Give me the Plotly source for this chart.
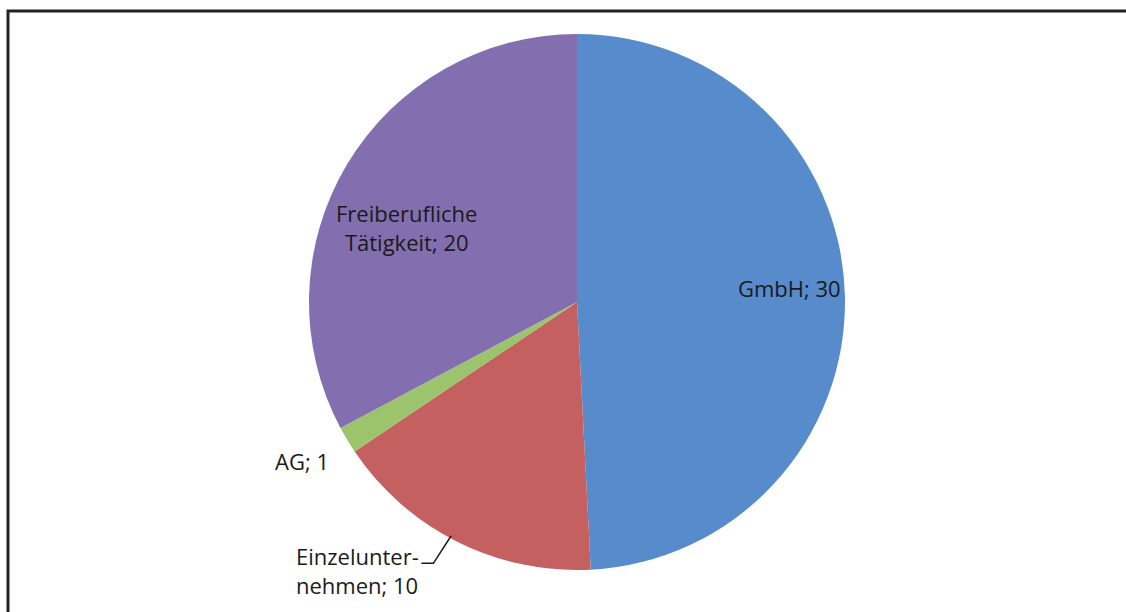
import math
import plotly.graph_objects as go

# ── Data ──────────────────────────────────────────────────────────────────────
LABELS = ["GmbH", "Einzelunternehmen", "AG", "Freiberufliche Tätigkeit"]
DISPLAY = ["GmbH; 30", "Einzelunter-<br>nehmen; 10", "AG; 1", "Freiberufliche<br>Tätigkeit; 20"]
VALUES = [30, 10, 1, 20]

# ── Style ─────────────────────────────────────────────────────────────────────
COLORS = ["#588BCB", "#C46060", "#9BC46C", "#836FB0"]
TEXT_COLOR = "#1a1a1a"
FONT = "Open Sans"
W, H = 1126, 612
CX, CY, R = 577, 302, 268          # pie centre / radius in px

# label placement: (radius factor, xanchor, xshift, yshift)
LABEL_STYLE = [
    (0.80, "center", -2, 8),
    (1.00, "right", -36, -29),
    (1.00, "right", -16, -21),
    (0.70, "center", -10, -22),
]


def to_paper(px, py):
    return px / W, 1 - py / H


fig = go.Figure(go.Pie(
    labels=LABELS,
    values=VALUES,
    sort=False,
    direction="clockwise",
    rotation=0,
    marker=dict(colors=COLORS, line=dict(width=0)),
    textinfo="none",
    hoverinfo="label+value",
    showlegend=False,
    domain=dict(x=[(CX - R) / W, (CX + R) / W],
                y=[1 - (CY + R) / H, 1 - (CY - R) / H]),
))

# ── Labels placed from slice mid-angles ──────────────────────────────────────
total = sum(VALUES)
cum = 0
annotations = []
shapes = []
for i, v in enumerate(VALUES):
    mid = (cum + v / 2) / total
    cum += v
    ang = math.radians(90 - mid * 360)
    dx, dy = math.cos(ang), -math.sin(ang)      # screen direction (y down)
    rf, xa, xs, ys = LABEL_STYLE[i]
    px, py = CX + R * rf * dx, CY + R * rf * dy
    x, y = to_paper(px, py)
    annotations.append(dict(
        x=x, y=y, xref="paper", yref="paper",
        text=DISPLAY[i], showarrow=False, xanchor=xa, yanchor="middle",
        align="left" if xa == "right" else "center",
        xshift=xs, yshift=ys,
        font=dict(family=FONT, size=22, color=TEXT_COLOR),
    ))
    if LABELS[i] == "Einzelunternehmen":
        # leader line from slice edge to the label
        off = -9
        p1 = to_paper(CX + off + R * 0.975 * dx, CY + R * 0.975 * dy)
        p2 = to_paper(CX + off - 4 + R * 1.09 * dx, CY + R * 1.09 * dy)
        p3 = (p2[0] - 12 / W, p2[1])
        shapes.append(dict(
            type="path", xref="paper", yref="paper",
            path=f"M {p1[0]} {p1[1]} L {p2[0]} {p2[1]} L {p3[0]} {p3[1]}",
            line=dict(color=TEXT_COLOR, width=1.5),
        ))

# ── Chart frame (open at right / bottom, as in the crop) ─────────────────────
shapes.append(dict(
    type="rect", xref="paper", yref="paper",
    x0=8 / W, x1=1.02, y0=-0.02, y1=1 - 11 / H,
    line=dict(color="#222222", width=3),
))

fig.update_layout(
    width=W, height=H,
    margin=dict(l=0, r=0, t=0, b=0),
    paper_bgcolor="white",
    plot_bgcolor="white",
    annotations=annotations,
    shapes=shapes,
    font=dict(family=FONT, color=TEXT_COLOR),
)

fig.write_html(
    "out.html",
    config={"displayModeBar": False},
    post_script="document.body.style.margin='0';document.body.style.overflow='hidden';",
)
